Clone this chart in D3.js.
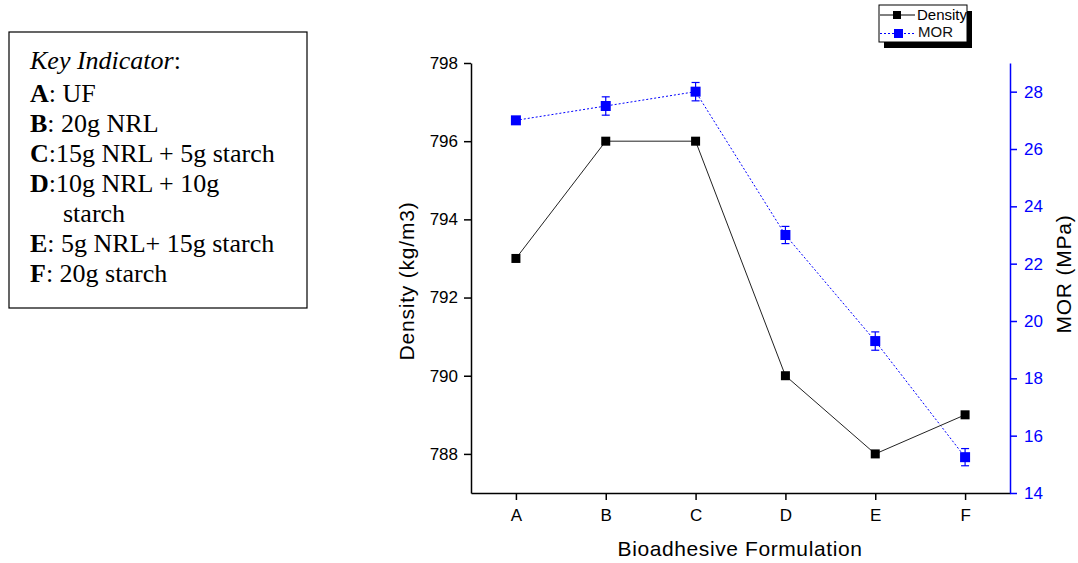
<!DOCTYPE html>
<html>
<head>
<meta charset="UTF-8">
<style>
  body { margin: 0; background: white; }
  svg { display: block; }
  .tick text { font-family: "Liberation Sans", Arial, sans-serif; font-size: 17px; }
</style>
</head>
<body>
<svg width="1078" height="563"></svg>
<script src="https://d3js.org/d3.v7.min.js"></script>
<script>
// data
const categories = ["A", "B", "C", "D", "E", "F"];
const density = [793, 796, 796, 790, 788, 789];
const mor = [27.0, 27.5, 28.0, 23.0, 19.3, 15.25];
const morErr = [0.1, 0.32, 0.32, 0.3, 0.32, 0.3];
const densityTicks = [788, 790, 792, 794, 796, 798];
const morTicks = [14, 16, 18, 20, 22, 24, 26, 28];
const keyLines = [
  ["A", ": UF"],
  ["B", ": 20g NRL"],
  ["C", ":15g NRL + 5g starch"],
  ["D", ":10g NRL + 10g"],
  ["", "starch"],
  ["E", ": 5g NRL+ 15g starch"],
  ["F", ": 20g starch"]
];

const svg = d3.select("svg");
const plotL = 471, plotR = 1010, plotT = 63, plotB = 493;

let x = d3.scalePoint().domain(categories).range([plotL, plotR]).padding(0.5);
let yL = d3.scaleLinear().domain([787, 798]).range([plotB, plotT]);
let yR = d3.scaleLinear().domain([14, 29]).range([plotB, plotT]);

// axes
let gx = svg.append("g").attr("transform", `translate(0,${plotB})`)
  .call(d3.axisBottom(x).tickSize(7).tickPadding(9).tickSizeOuter(0));
gx.select(".domain").attr("stroke-width", 1.5);
gx.selectAll(".tick line").attr("stroke-width", 1.5);

let gl = svg.append("g").attr("transform", `translate(${plotL},0)`)
  .call(d3.axisLeft(yL).tickValues(densityTicks).tickSize(7).tickPadding(6).tickSizeOuter(0));
gl.select(".domain").attr("stroke-width", 1.5);
gl.selectAll(".tick line").attr("stroke-width", 1.5);

let gr = svg.append("g").attr("transform", `translate(${plotR},0)`)
  .call(d3.axisRight(yR).tickValues(morTicks).tickSize(7).tickPadding(7).tickSizeOuter(0));
gr.select(".domain").attr("stroke", "#0000ff").attr("stroke-width", 1.5);
gr.selectAll(".tick line").attr("stroke", "#0000ff").attr("stroke-width", 1.5);
gr.selectAll(".tick text").attr("fill", "#0000ff");

// axis titles
const titleFont = "Liberation Sans, Arial, sans-serif";
svg.append("text").attr("transform", "translate(414,281) rotate(-90)")
  .attr("text-anchor", "middle").attr("font-family", titleFont).attr("font-size", 21)
  .attr("letter-spacing", 0.8).text("Density (kg/m3)");
svg.append("text").attr("transform", "translate(1071,274) rotate(-90)")
  .attr("text-anchor", "middle").attr("font-family", titleFont).attr("font-size", 21)
  .attr("letter-spacing", 0.8).text("MOR (MPa)");
svg.append("text").attr("x", 740).attr("y", 556)
  .attr("text-anchor", "middle").attr("font-family", titleFont).attr("font-size", 21)
  .attr("letter-spacing", 0.6).text("Bioadhesive Formulation");

// MOR line
svg.append("path").datum(categories)
  .attr("fill", "none").attr("stroke", "#0000ff").attr("stroke-width", 1)
  .attr("stroke-dasharray", "2,2")
  .attr("d", d3.line().x(c => x(c)).y((c, i) => yR(mor[i])));

// error bars
let eb = svg.append("g").attr("stroke", "#0000ff").attr("stroke-width", 1.2);
categories.forEach((c, i) => {
  let cx = x(c), y1 = yR(mor[i] + morErr[i]), y2 = yR(mor[i] - morErr[i]);
  eb.append("line").attr("x1", cx).attr("x2", cx).attr("y1", y1).attr("y2", y2);
  eb.append("line").attr("x1", cx - 4).attr("x2", cx + 4).attr("y1", y1).attr("y2", y1);
  eb.append("line").attr("x1", cx - 4).attr("x2", cx + 4).attr("y1", y2).attr("y2", y2);
});

svg.append("g").selectAll("rect").data(categories).join("rect")
  .attr("x", c => x(c) - 5).attr("y", (c, i) => yR(mor[i]) - 5)
  .attr("width", 10).attr("height", 10).attr("fill", "#0000ff");

// Density line
svg.append("path").datum(categories)
  .attr("fill", "none").attr("stroke", "#222").attr("stroke-width", 1)
  .attr("d", d3.line().x(c => x(c)).y((c, i) => yL(density[i])));

svg.append("g").selectAll("rect").data(categories).join("rect")
  .attr("x", c => x(c) - 4.5).attr("y", (c, i) => yL(density[i]) - 4.5)
  .attr("width", 9).attr("height", 9).attr("fill", "black");

// legend
let lg = svg.append("g").attr("transform", "translate(879,5)");
lg.append("rect").attr("x", 5).attr("y", 6).attr("width", 88).attr("height", 37).attr("fill", "black");
lg.append("rect").attr("width", 88).attr("height", 37).attr("fill", "white").attr("stroke", "black");
lg.append("line").attr("x1", 1).attr("x2", 36).attr("y1", 10).attr("y2", 10).attr("stroke", "black");
lg.append("rect").attr("x", 14).attr("y", 6).attr("width", 8).attr("height", 8).attr("fill", "black");
lg.append("text").attr("x", 38).attr("y", 15).attr("font-family", titleFont).attr("font-size", 15).text("Density");
lg.append("line").attr("x1", 1).attr("x2", 36).attr("y1", 28.5).attr("y2", 28.5)
  .attr("stroke", "#0000ff").attr("stroke-dasharray", "2,2");
lg.append("rect").attr("x", 15).attr("y", 24).attr("width", 9).attr("height", 9).attr("fill", "#0000ff");
lg.append("text").attr("x", 39).attr("y", 32).attr("font-family", titleFont).attr("font-size", 15)
  .attr("fill", "#111").text("MOR");

// key indicator box
let kg = svg.append("g").attr("font-family", "Liberation Serif, Times New Roman, serif").attr("font-size", 26);
kg.append("rect").attr("x", 9).attr("y", 32).attr("width", 298).attr("height", 276)
  .attr("fill", "white").attr("stroke", "black").attr("stroke-width", 1.2);
let kt = kg.append("text").attr("x", 30).attr("y", 69);
kt.append("tspan").attr("font-style", "italic").text("Key Indicator");
kt.append("tspan").text(":");
keyLines.forEach((l, i) => {
  let t = kg.append("text").attr("x", l[0] ? 30 : 63).attr("y", 102 + i * 30);
  if (l[0]) t.append("tspan").attr("font-weight", "bold").text(l[0]);
  t.append("tspan").text(l[1]);
});
</script>
</body>
</html>
